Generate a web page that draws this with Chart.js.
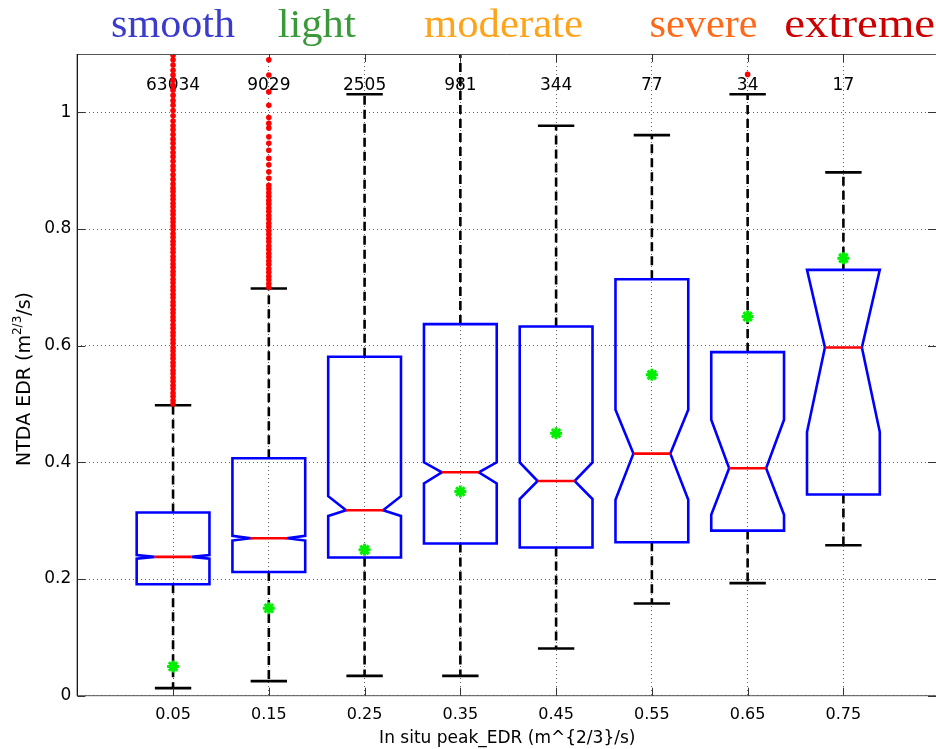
<!DOCTYPE html>
<html>
<head>
<meta charset="utf-8">
<script src="https://cdn.jsdelivr.net/npm/chart.js@4.4.1/dist/chart.umd.min.js"></script>
<style>
  html, body { margin: 0; padding: 0; background: #fff; overflow: hidden; }
  #edrChart { display: block; }
</style>
</head>
<body>
<canvas id="edrChart" width="936" height="749"></canvas>
<script>
// Box plot data: NTDA EDR vs in situ peak EDR bins
const positions = [0.05, 0.15, 0.25, 0.35, 0.45, 0.55, 0.65, 0.75];
const counts    = [63034, 9029, 2505, 981, 344, 77, 34, 17];
const whiskerLo = [0.013, 0.025, 0.034, 0.034, 0.081, 0.158, 0.193, 0.258];
const q1        = [0.191, 0.212, 0.237, 0.261, 0.254, 0.263, 0.283, 0.345];
const notchLo   = [0.235, 0.266, 0.308, 0.364, 0.337, 0.336, 0.310, 0.452];
const medians   = [0.238, 0.270, 0.318, 0.383, 0.368, 0.415, 0.390, 0.597];
const notchHi   = [0.241, 0.274, 0.342, 0.400, 0.400, 0.490, 0.473, 0.730];
const q3        = [0.314, 0.407, 0.581, 0.637, 0.633, 0.714, 0.589, 0.730];
const whiskerHi = [0.498, 0.698, 1.031, 1.150, 0.977, 0.961, 1.031, 0.897];
const means     = [0.05, 0.15, 0.25, 0.35, 0.45, 0.55, 0.65, 0.75];

// outliers (red), per bin
const outliers1 = [0.500,0.506,0.513,0.519,0.526,0.532,0.539,0.545,0.552,0.558,0.565,0.571,0.578,0.584,
  0.591,0.597,0.604,0.610,0.617,0.623,0.630,0.636,0.643,0.649,0.656,0.662,0.669,0.675,0.682,0.688,
  0.695,0.701,0.708,0.714,0.721,0.727,0.734,0.740,0.747,0.753,0.760,0.766,0.773,0.779,0.786,0.792,
  0.799,0.805,0.812,0.818,0.825,0.831,0.838,0.844,0.851,0.857,0.864,0.870,0.877,0.885,0.893,0.901,
  0.908,0.916,0.924,0.931,0.939,0.947,0.954,0.962,0.970,0.977,0.985,0.994,1.003,1.012,1.020,1.029,
  1.038,1.046,1.055,1.064,1.072,1.081,1.090,1.098];
const outliers2 = [0.700,0.706,0.713,0.719,0.726,0.732,0.739,0.745,0.752,0.758,0.765,0.771,0.778,0.784,
  0.791,0.797,0.804,0.810,0.817,0.823,0.830,0.836,0.843,0.849,0.856,0.862,0.869,0.875,
  0.887,0.898,0.910,0.921,0.935,0.947,0.958,0.973,0.981,0.991,1.012,1.035,1.064,1.090];
const outliers7 = [1.065];

const yTickValues = [0, 0.2, 0.4, 0.6, 0.8, 1];
const severityWords = ['smooth', 'light', 'moderate', 'severe', 'extreme'];

// styling / layout
const wordColors = ['#3b3bcc', '#3a9a3a', '#ffa31a', '#ff6a1a', '#cc0000'];
const wordAnchors = [0.05, 0.2, 0.395, 0.604, 0.767];   // x-axis values
const wordWidths = [124, 78, 159, 108, 151];
const BOX_HALF = 0.038, NOTCH_HALF = 0.0193, CAP_HALF = 0.019;

const outlierPoints = [
  ...outliers1.map(v => ({x: positions[0], y: v})),
  ...outliers2.map(v => ({x: positions[1], y: v})),
  ...outliers7.map(v => ({x: positions[6], y: v}))
];

const notchBoxes = {
  id: 'notchBoxes',
  beforeDatasetsDraw(chart) {
    const {ctx, chartArea: a, scales: {x, y}} = chart;
    ctx.save();
    // sample counts
    ctx.font = '17px "DejaVu Sans"';
    ctx.fillStyle = '#000';
    ctx.textAlign = 'center';
    ctx.textBaseline = 'middle';
    positions.forEach((p, i) => ctx.fillText(String(counts[i]), x.getPixelForValue(p), y.getPixelForValue(1.046)));

    ctx.beginPath();
    ctx.rect(a.left, a.top, a.right - a.left, a.bottom - a.top);
    ctx.clip();

    const seg = (x0, y0, x1, y1) => { ctx.beginPath(); ctx.moveTo(x0, y0); ctx.lineTo(x1, y1); ctx.stroke(); };
    positions.forEach((p, i) => {
      const cx = x.getPixelForValue(p);
      const bw = x.getPixelForValue(p + BOX_HALF) - cx;
      const nw = x.getPixelForValue(p + NOTCH_HALF) - cx;
      const cw = x.getPixelForValue(p + CAP_HALF) - cx;
      const Y = v => y.getPixelForValue(v);

      // whiskers
      ctx.strokeStyle = '#000';
      ctx.lineWidth = 2.6;
      ctx.setLineDash([9, 5]);
      seg(cx, Y(q3[i]), cx, Y(whiskerHi[i]));
      seg(cx, Y(q1[i]), cx, Y(whiskerLo[i]));
      ctx.setLineDash([]);
      seg(cx - cw, Y(whiskerHi[i]), cx + cw, Y(whiskerHi[i]));
      seg(cx - cw, Y(whiskerLo[i]), cx + cw, Y(whiskerLo[i]));

      // notched box
      ctx.strokeStyle = '#0000ff';
      ctx.lineWidth = 2.6;
      ctx.lineJoin = 'miter';
      ctx.beginPath();
      ctx.moveTo(cx - bw, Y(q1[i]));
      ctx.lineTo(cx - bw, Y(notchLo[i]));
      ctx.lineTo(cx - nw, Y(medians[i]));
      ctx.lineTo(cx - bw, Y(notchHi[i]));
      ctx.lineTo(cx - bw, Y(q3[i]));
      ctx.lineTo(cx + bw, Y(q3[i]));
      ctx.lineTo(cx + bw, Y(notchHi[i]));
      ctx.lineTo(cx + nw, Y(medians[i]));
      ctx.lineTo(cx + bw, Y(notchLo[i]));
      ctx.lineTo(cx + bw, Y(q1[i]));
      ctx.closePath();
      ctx.stroke();

      // median
      ctx.strokeStyle = '#ff0000';
      seg(cx - nw, Y(medians[i]), cx + nw, Y(medians[i]));
    });
    ctx.restore();
  },
  afterDraw(chart) {
    const {ctx, chartArea: a, scales: {x, y}} = chart;
    ctx.save();
    // frame
    ctx.lineWidth = 1;
    ctx.strokeStyle = '#555';
    ctx.beginPath();
    ctx.moveTo(a.left, a.top + 0.5); ctx.lineTo(a.right, a.top + 0.5);
    ctx.moveTo(a.left, a.bottom); ctx.lineTo(a.right, a.bottom);
    ctx.stroke();
    ctx.strokeStyle = '#000';
    ctx.lineWidth = 1.2;
    ctx.beginPath();
    ctx.moveTo(a.left, a.top); ctx.lineTo(a.left, a.bottom);
    ctx.stroke();

    // inward ticks
    ctx.strokeStyle = '#333';
    ctx.lineWidth = 1;
    ctx.beginPath();
    yTickValues.forEach(v => {
      const py = Math.round(y.getPixelForValue(v)) + 0.5;
      ctx.moveTo(a.left, py); ctx.lineTo(a.left + 8, py);
      ctx.moveTo(a.right, py); ctx.lineTo(a.right - 8, py);
    });
    positions.forEach(p => {
      const px = Math.round(x.getPixelForValue(p)) + 0.5;
      ctx.moveTo(px, a.bottom); ctx.lineTo(px, a.bottom - 8);
      ctx.moveTo(px, a.top); ctx.lineTo(px, a.top + 8);
    });
    ctx.stroke();

    // axis titles
    ctx.fillStyle = '#000';
    ctx.font = '17px "DejaVu Sans"';
    ctx.textAlign = 'center';
    ctx.textBaseline = 'alphabetic';
    ctx.fillText('In situ peak_EDR (m^{2/3}/s)', x.getPixelForValue(0.399), 743);

    ctx.save();
    ctx.translate(29.5, 379);
    ctx.rotate(-Math.PI / 2);
    const mainFont = '19px "DejaVu Sans"', supFont = '12px "DejaVu Sans"';
    const parts = [['NTDA EDR (m', mainFont, 0], ['2/3', supFont, -9], ['/s)', mainFont, 0]];
    let total = 0;
    parts.forEach(([t, f]) => { ctx.font = f; total += ctx.measureText(t).width; });
    let cur = -total / 2;
    ctx.textAlign = 'left';
    parts.forEach(([t, f, dy]) => {
      ctx.font = f;
      ctx.fillText(t, cur, dy);
      cur += ctx.measureText(t).width;
    });
    ctx.restore();

    // severity words
    ctx.font = '40px "Liberation Serif"';
    ctx.textAlign = 'left';
    severityWords.forEach((w, i) => {
      const natural = ctx.measureText(w).width;
      const sx = wordWidths[i] / natural;
      const cx = x.getPixelForValue(wordAnchors[i]);
      ctx.save();
      ctx.translate(cx - wordWidths[i] / 2, 37);
      ctx.scale(sx, 1);
      ctx.fillStyle = wordColors[i];
      ctx.fillText(w, 0, 0);
      ctx.restore();
    });
    ctx.restore();
  }
};

new Chart(document.getElementById('edrChart'), {
  type: 'scatter',
  data: {
    datasets: [
      {
        label: 'outliers',
        data: outlierPoints,
        pointStyle: 'circle',
        pointRadius: 2.8,
        backgroundColor: '#ff0000',
        borderWidth: 0
      },
      {
        label: 'mean',
        data: positions.map((p, i) => ({x: p, y: means[i]})),
        pointStyle: 'star',
        pointRadius: 6,
        borderColor: '#00ee00',
        backgroundColor: '#00ee00',
        borderWidth: 3
      }
    ]
  },
  options: {
    responsive: false,
    animation: false,
    layout: { autoPadding: false, padding: { top: 54, right: 0, left: 0, bottom: 0 } },
    plugins: { legend: { display: false }, tooltip: { enabled: false } },
    scales: {
      x: {
        type: 'linear',
        min: -0.05,
        max: 0.8467,
        afterBuildTicks: s => { s.ticks = positions.map(v => ({value: v})); },
        afterFit: s => { s.height = 53.3; s.paddingRight = 0; s.paddingLeft = 0; },
        grid: { color: '#666', lineWidth: 1, drawTicks: false },
        border: { display: false, dash: [1, 3] },
        ticks: {
          padding: 10,
          color: '#000',
          font: { family: 'DejaVu Sans', size: 16 },
          callback: v => String(+v.toFixed(2))
        }
      },
      y: {
        min: 0,
        max: 1.1,
        afterBuildTicks: s => { s.ticks = yTickValues.map(v => ({value: v})); },
        afterFit: s => { s.width = 77.3; },
        grid: { color: '#666', lineWidth: 1, drawTicks: false },
        border: { display: false, dash: [1, 3] },
        ticks: {
          padding: 6,
          color: '#000',
          font: { family: 'DejaVu Sans', size: 17 },
          callback: v => String(+v.toFixed(1))
        }
      }
    }
  },
  plugins: [notchBoxes]
});
</script>
</body>
</html>
